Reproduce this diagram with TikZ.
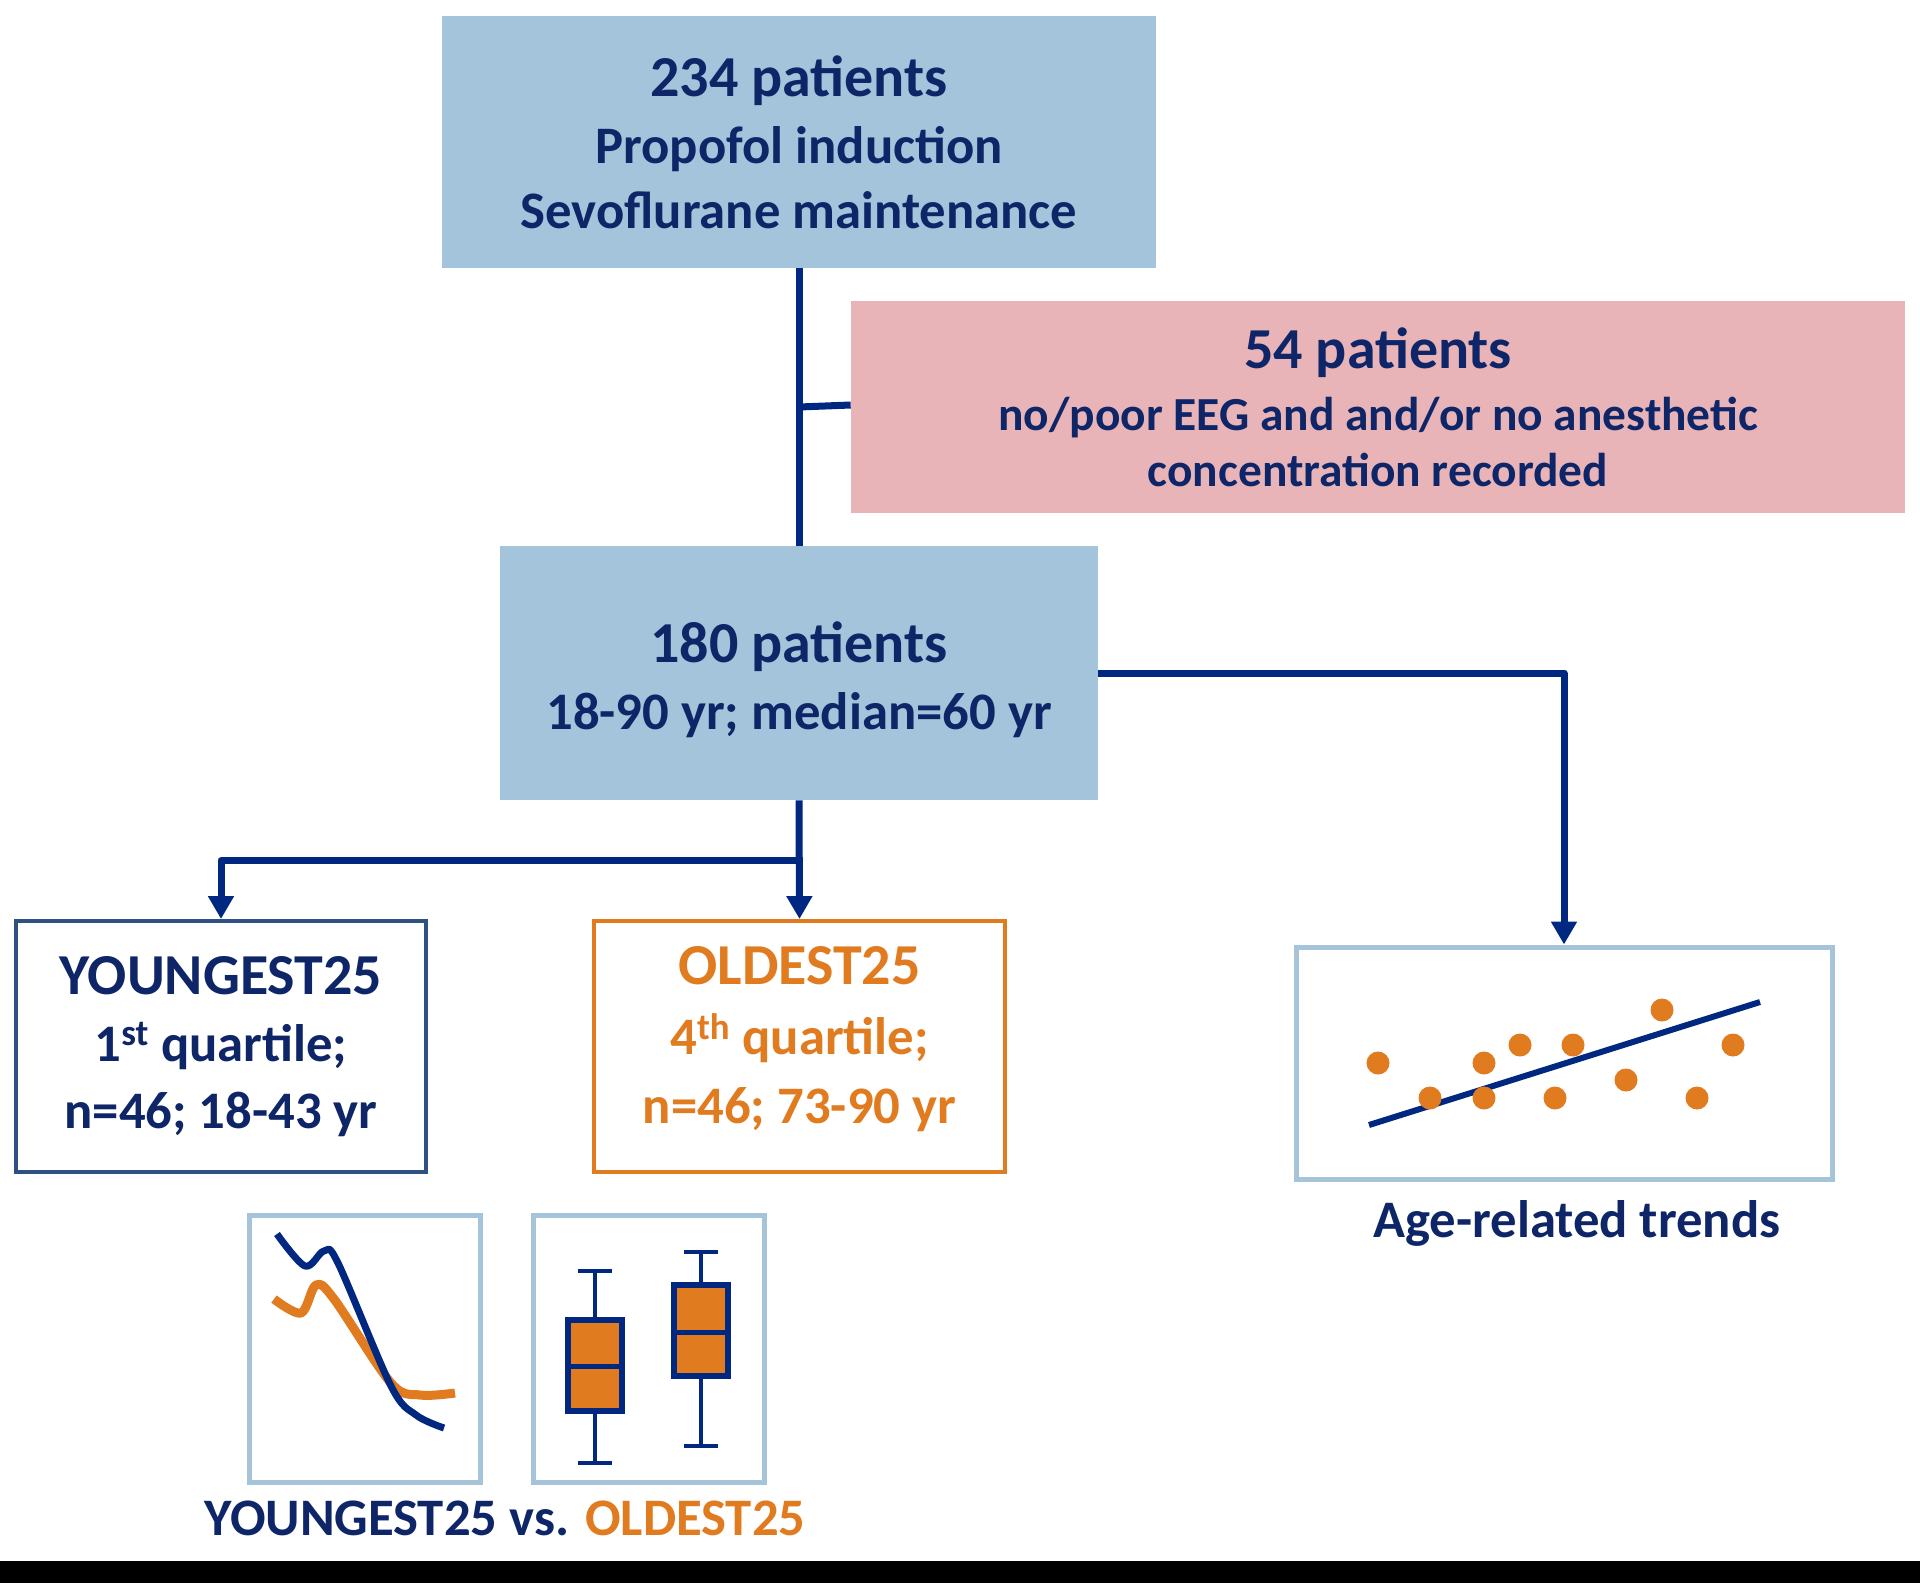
\documentclass[tikz,border=0pt]{standalone}
\usepackage{fontspec}
\setmainfont{Carlito}
\usetikzlibrary{arrows.meta}
\definecolor{navytext}{RGB}{14,38,104}
\definecolor{navyline}{RGB}{0,40,128}
\definecolor{lightfill}{RGB}{163,196,218}
\definecolor{pinkfill}{RGB}{232,180,184}
\definecolor{orangec}{RGB}{224,123,32}
\definecolor{youngborder}{RGB}{47,80,130}
\definecolor{panelborder}{RGB}{165,196,218}
\newdimen\pxu \pxu=0.02cm
\tikzset{
  boxbase/.style={rectangle, inner sep=0pt, align=center, text=navytext},
  bluebox/.style={boxbase, fill=lightfill},
  pinkbox/.style={boxbase, fill=pinkfill},
  youngbox/.style={boxbase, draw=youngborder, line width=4\pxu, fill=white},
  oldbox/.style={boxbase, draw=orangec, line width=4\pxu, fill=white, text=orangec},
  panel/.style={rectangle, inner sep=0pt, draw=panelborder, line width=5\pxu},
  conn/.style={draw=navyline, line width=7\pxu, line join=round},
  arr/.style={conn, -{Triangle[width=14pt, length=13pt]}},
  caption/.style={font=\bfseries\fontsize{30}{36}\selectfont, text=navytext, inner sep=0pt}
}
\newcommand\bigline[1]{{\fontsize{33}{37}\selectfont #1}}
\begin{document}
\begin{tikzpicture}[x=0.02cm, y=-0.02cm]
\useasboundingbox (0,0) rectangle (1920,1583);
\fill[white] (0,0) rectangle (1920,1561);
\fill[black] (0,1561) rectangle (1920,1583);

% main boxes
\node[bluebox, font=\bfseries\fontsize{30}{37}\selectfont, minimum width=714\pxu, minimum height=252\pxu] (top) at (799,142)
  {\bigline{234 patients}\\[1pt]
   Propofol induction\\
   Sevoflurane maintenance};
\node[pinkbox, font=\bfseries\fontsize{27}{31.5}\selectfont, minimum width=1054\pxu, minimum height=212\pxu] (excl) at (1378,407)
  {\bigline{54 patients}\\[4pt]
   no/poor EEG and and/or no anesthetic\\
   concentration recorded};
\node[bluebox, font=\bfseries\fontsize{30}{38}\selectfont, minimum width=598\pxu, minimum height=254\pxu] (mid) at (799,673)
  {\rule{0pt}{31pt}\bigline{180 patients}\\
   18-90 yr; median=60 yr};
\node[youngbox, font=\bfseries\fontsize{30}{38}\selectfont, minimum width=410\pxu, minimum height=251\pxu] (young) at (221,1046.5)
  {\bigline{YOUNGEST25}\\
   1\textsuperscript{st} quartile;\\
   n=46; 18-43 yr};
\node[oldbox, font=\bfseries\fontsize{30}{39}\selectfont, minimum width=411\pxu, minimum height=251\pxu] (old) at (799.5,1046.5)
  {\bigline{OLDEST25}\\[1pt]
   4\textsuperscript{th} quartile;\\
   n=46; 73-90 yr\rule[-13pt]{0pt}{1pt}};
\node[panel, minimum width=536\pxu, minimum height=232\pxu] (trends) at (1564,1063) {};
\node[panel, minimum width=231\pxu, minimum height=267\pxu] (pa) at (364.5,1348.5) {};
\node[panel, minimum width=231\pxu, minimum height=267\pxu] (pb) at (648.5,1348.5) {};

% connectors
\draw[conn] (top.south) -- (mid.north);
\coordinate (branch) at (top.south |- 0,407);
\coordinate (branchend) at (excl.west |- 0,405);
\draw[conn] (branch) -- (branchend);
\draw[arr] (mid.east) -| (trends.north);
\coordinate (split) at ([yshift=-60\pxu]mid.south);
\draw[arr] (mid.south) -- (old.north);
\draw[arr] (split) -| (young.north);

% trend panel contents
\draw[navyline, line width=6\pxu] (1369,1125) -- (1760,1002);
\foreach \p in {(1378,1063),(1430,1098),(1484,1063),(1484,1098),(1520,1045),(1555,1098),(1573,1045),(1626,1080),(1662,1010),(1697,1098),(1733,1045)}
  \fill[orangec] \p circle (11.5);
\node[caption] (trendcap) at (1577,1223) {Age-related trends};

% curves panel
\draw[orangec, line width=9\pxu, line join=round] plot[smooth, tension=0.55] coordinates
  {(274,1299) (301,1313) (316,1285) (334,1299) (391,1383) (420,1395) (455,1393)};
\draw[navyline, line width=7\pxu, line join=round] plot[smooth, tension=0.55] coordinates
  {(277,1234) (305,1266) (324,1251) (338,1263) (391,1386) (416,1415) (444,1428)};

% box plots
\draw[navyline, line width=3.5\pxu] (595,1271) -- (595,1463);
\draw[navyline, line width=4.5\pxu] (578,1271) -- (612,1271) (578,1463) -- (612,1463);
\draw[navyline, fill=orangec, line width=5.5\pxu] (568,1320) rectangle (622,1411);
\draw[navyline, line width=5\pxu] (568,1366) -- (622,1366);
\draw[navyline, line width=3.5\pxu] (701,1252) -- (701,1446);
\draw[navyline, line width=4.5\pxu] (684,1252) -- (718,1252) (684,1446) -- (718,1446);
\draw[navyline, fill=orangec, line width=5.5\pxu] (674,1285) rectangle (728,1376);
\draw[navyline, line width=5\pxu] (674,1332) -- (728,1332);

\node[caption] (cmpcap) at (505,1518) {YOUNGEST25 vs. \textcolor{orangec}{OLDEST25}};
\end{tikzpicture}
\end{document}
